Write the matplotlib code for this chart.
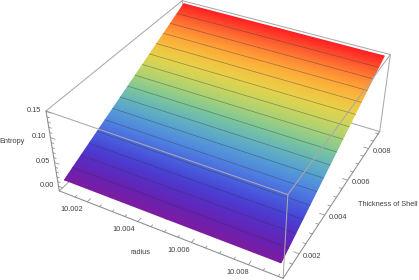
import matplotlib
matplotlib.use("Agg")
import matplotlib.pyplot as plt
from matplotlib.colors import LinearSegmentedColormap
import numpy as np

# values
radius = [10.001, 10.005, 10.009]
thickness = [0.0010, 0.0015, 0.0020, 0.0025, 0.0030, 0.0035, 0.0040, 0.0045, 0.0050,
             0.0055, 0.0060, 0.0065, 0.0070, 0.0075, 0.0080, 0.0085, 0.0090]
entropy = [0.0110, 0.0197, 0.0284, 0.0371, 0.0458, 0.0545, 0.0631, 0.0718, 0.0805,
           0.0892, 0.0979, 0.1066, 0.1153, 0.1240, 0.1326, 0.1413, 0.1500]

radius_ticks = [10.002, 10.004, 10.006, 10.008]
thickness_ticks = [0.002, 0.004, 0.006, 0.008]
entropy_ticks = [0.00, 0.05, 0.10, 0.15]
radius_minor = [10.0015, 10.0025, 10.003, 10.0035, 10.0045, 10.005, 10.0055,
                10.0065, 10.007, 10.0075, 10.0085, 10.009]
thickness_minor = [0.0015, 0.0025, 0.003, 0.0035, 0.0045, 0.005, 0.0055,
                   0.0065, 0.007, 0.0075, 0.0085, 0.009]
entropy_minor = [0.01, 0.02, 0.03, 0.04, 0.06, 0.07, 0.08, 0.09, 0.11, 0.12, 0.13, 0.14]

# box limits
R0, R1 = 10.00084, 10.00916
T0, T1 = 0.00084, 0.00916
Z0, Z1 = -0.010, 0.151

# box corners seen on the picture, used to fit the camera
corners = [((R0, T0, Z0), (59.3, 191.0)),
           ((R1, T0, Z0), (282.7, 278.0)),
           ((R1, T1, Z0), (380.0, 131.7)),
           ((R0, T0, Z1), (46.0, 110.7)),
           ((R1, T0, Z1), (288.3, 195.0)),
           ((R1, T1, Z1), (390.0, 54.3)),
           ((R0, T1, Z1), (182.3, 0.7))]

rainbow = LinearSegmentedColormap.from_list("rainbow_like", [
    (0.00, (0.49, 0.11, 0.63)),
    (0.10, (0.36, 0.15, 0.75)),
    (0.20, (0.27, 0.28, 0.85)),
    (0.30, (0.31, 0.50, 0.89)),
    (0.40, (0.35, 0.67, 0.80)),
    (0.50, (0.49, 0.78, 0.60)),
    (0.60, (0.74, 0.84, 0.40)),
    (0.70, (0.92, 0.82, 0.28)),
    (0.80, (1.00, 0.69, 0.22)),
    (0.90, (1.00, 0.44, 0.20)),
    (1.00, (1.00, 0.12, 0.14))])


def norm(r, t, z):
    return (np.asarray(r) - R0) / (R1 - R0), (np.asarray(t) - T0) / (T1 - T0), (np.asarray(z) - Z0) / (Z1 - Z0)


def fit_camera():
    rows = []
    for (r, t, z), (px, py) in corners:
        u, v, w = norm(r, t, z)
        rows.append([u, v, w, 1, 0, 0, 0, 0, -px * u, -px * v, -px * w, -px])
        rows.append([0, 0, 0, 0, u, v, w, 1, -py * u, -py * v, -py * w, -py])
    return np.linalg.svd(np.array(rows, dtype=float))[2][-1].reshape(3, 4)


camera = fit_camera()


def project(r, t, z):
    u, v, w = norm(r, t, z)
    px = camera[0, 0] * u + camera[0, 1] * v + camera[0, 2] * w + camera[0, 3]
    py = camera[1, 0] * u + camera[1, 1] * v + camera[1, 2] * w + camera[1, 3]
    pw = camera[2, 0] * u + camera[2, 1] * v + camera[2, 2] * w + camera[2, 3]
    return px / pw, py / pw


def edge(ax, a, b, color="#a9a9a9", lw=0.75, zorder=1):
    x, y = project(np.array([a[0], b[0]], dtype=float),
                   np.array([a[1], b[1]], dtype=float),
                   np.array([a[2], b[2]], dtype=float))
    ax.plot(x, y, color=color, lw=lw, zorder=zorder, solid_capstyle="round")


fig = plt.figure(figsize=(4.19, 2.80), dpi=100)
ax = fig.add_axes([0, 0, 1, 1])
ax.set_xlim(0, 419)
ax.set_ylim(280, 0)
ax.axis("off")
plt.rcParams["font.family"] = ["Liberation Sans", "DejaVu Sans"]

# edges behind the surface
edge(ax, (R0, T0, Z0), (R0, T1, Z0))
edge(ax, (R0, T1, Z0), (R1, T1, Z0))
edge(ax, (R0, T1, Z0), (R0, T1, Z1))
edge(ax, (R1, T1, Z0), (R1, T1, Z1))
edge(ax, (R0, T0, Z1), (R0, T1, Z1))
edge(ax, (R0, T1, Z1), (R1, T1, Z1))

# surface
rr, tt = np.meshgrid(radius, thickness)
zz = np.tile(np.array(entropy)[:, None], (1, len(radius)))
sx, sy = project(rr, tt, zz)
ax.pcolormesh(sx, sy, zz, cmap=rainbow, shading="gouraud", zorder=2)

# mesh lines, first and last row are the surface border
for t_val, z_val in zip(thickness[1:-1], entropy[1:-1]):
    x, y = project(np.array([radius[0], radius[-1]]), np.array([t_val, t_val]), np.array([z_val, z_val]))
    ax.plot(x, y, color="#303040", alpha=0.42, lw=0.55, zorder=3)

# edges in front of the surface
edge(ax, (R0, T0, Z1), (R1, T0, Z1), zorder=4)
edge(ax, (R1, T0, Z1), (R1, T1, Z1), zorder=4)
edge(ax, (R1, T0, Z0), (R1, T0, Z1), zorder=4)
edge(ax, (R0, T0, Z0), (R0, T0, Z1), color="#8c8c8c", zorder=4)
edge(ax, (R0, T0, Z0), (R1, T0, Z0), color="#8c8c8c", zorder=4)
edge(ax, (R1, T0, Z0), (R1, T1, Z0), color="#8c8c8c", zorder=4)

# ticks
tick_color = "#8c8c8c"
for vals, size in ((radius_ticks, 0.022), (radius_minor, 0.012)):
    for v in vals:
        edge(ax, (v, T0, Z0), (v, T0 + size * (T1 - T0), Z0), color=tick_color, lw=0.55, zorder=4)
for vals, size in ((thickness_ticks, 0.022), (thickness_minor, 0.012)):
    for v in vals:
        edge(ax, (R1, v, Z0), (R1 - size * (R1 - R0), v, Z0), color=tick_color, lw=0.55, zorder=4)
for vals, size in ((entropy_ticks, 0.022), (entropy_minor, 0.012)):
    for v in vals:
        edge(ax, (R0, T0, v), (R0 + size * (R1 - R0), T0, v), color=tick_color, lw=0.55, zorder=4)

# tick labels
label_kw = dict(fontsize=5.3, color="#404040", ha="center", va="center", zorder=5)
for v, dx in zip(radius_ticks, (-15.3, -14.1, -12.7, -11.1)):
    x, y = project(np.array(v), np.array(T0), np.array(Z0))
    ax.text(x + dx, y + 7.6, f"{v:.3f}", **label_kw)
for v in thickness_ticks:
    x, y = project(np.array(R1), np.array(v), np.array(Z0))
    ax.text(x + 13.2, y + 2.6, f"{v:.3f}", **label_kw)
for v in entropy_ticks:
    x, y = project(np.array(R0), np.array(T0), np.array(v))
    ax.text(x - 12.0, y - 0.7, f"{v:.2f}", **label_kw)

ax.text(140.3, 252.7, "radius", **label_kw)
ax.text(387.3, 205.0, "Thickness of Shell", **label_kw)
ax.text(12.3, 141.7, "Entropy", **label_kw)

fig.savefig("out.png", dpi=100)
